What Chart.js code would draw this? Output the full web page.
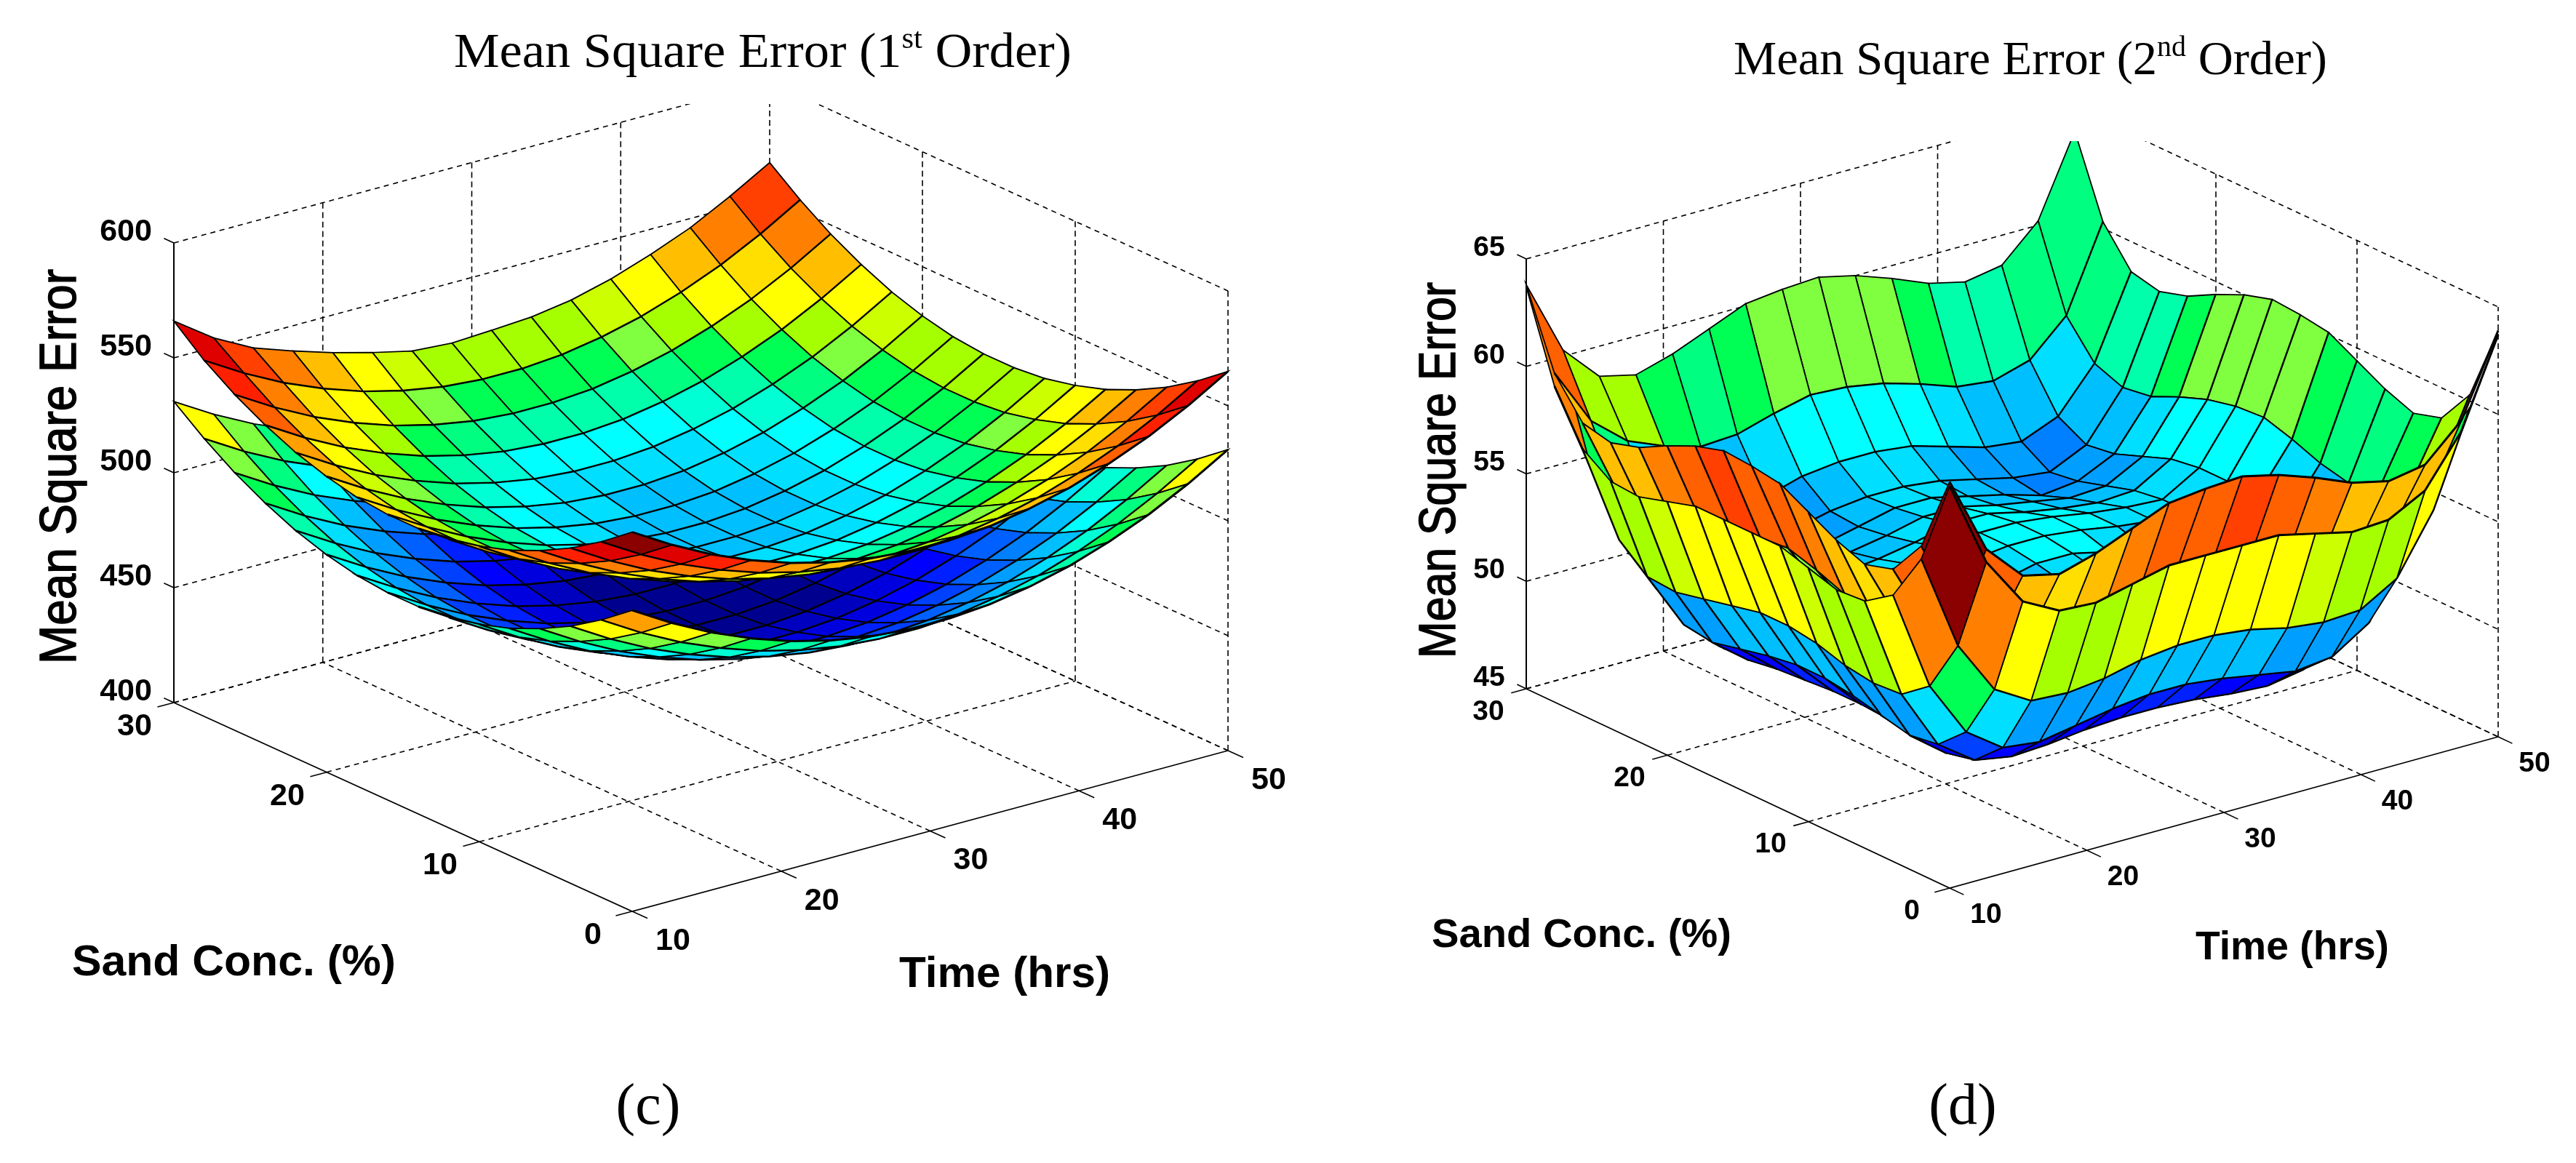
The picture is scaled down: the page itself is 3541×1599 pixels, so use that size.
<!DOCTYPE html>
<html>
<head>
<meta charset="utf-8">
<title>Mean Square Error surfaces</title>
<style>
  html, body { margin: 0; background: #fff; }
  body { position: relative; width: 3541px; height: 1599px; overflow: hidden; }
  canvas { position: absolute; top: 0; }
  #chartC { left: 0; }
  #chartD { left: 1770px; }
</style>
<script src="https://cdn.jsdelivr.net/npm/chart.js@4"></script>
</head>
<body>
<canvas id="chartC" width="1770" height="1599"></canvas>
<canvas id="chartD" width="1771" height="1599"></canvas>
<script>
// grid of both surfaces
const timeGrid = [10, 12.67, 15.33, 18, 20.67, 23.33, 26, 28.67, 31.33, 34, 36.67, 39.33, 42, 44.67, 47.33, 50];
const sandGrid = [0, 2, 4, 6, 8, 10, 12, 14, 16, 18, 20, 22, 24, 26, 28, 30];

// axis ticks
const timeTicks = [10, 20, 30, 40, 50];
const sandTicks = [0, 10, 20, 30];
const mseTicksC = [400, 450, 500, 550, 600];
const mseTicksD = [45, 50, 55, 60, 65];

// colour steps as they appear in the picture, low to high
const jetColors = ['#00008f', '#0000bf', '#0000df', '#0000ff', '#0020ff', '#0040ff', '#0060ff', '#0080ff',
  '#009fff', '#00bfff', '#00dfff', '#00ffff', '#00ffd4', '#00ffaa', '#00ff80', '#00ff55',
  '#80ff40', '#a6ff00', '#ccff00', '#ffff00', '#ffdf00', '#ffbf00', '#ff9f00', '#ff8000',
  '#ff6000', '#ff4000', '#ff2000', '#ff0000', '#df0000', '#bf0000', '#9f0000', '#8b0000'];

// panel (c), rows run along sand, columns along time
const upperC = [
  [565, 554.8, 546, 538.8, 532.9, 528.6, 525.6, 524.2, 524.2, 525.6, 528.6, 532.9, 538.8, 546, 554.8, 565],
  [554.8, 544.6, 535.8, 528.6, 522.7, 518.4, 515.4, 514, 514, 515.4, 518.4, 522.7, 528.6, 535.8, 544.6, 554.8],
  [546, 535.8, 527, 519.8, 513.9, 509.6, 506.6, 505.2, 505.2, 506.6, 509.6, 513.9, 519.8, 527, 535.8, 546],
  [538.8, 528.6, 519.8, 512.6, 506.7, 502.4, 499.4, 498, 498, 499.4, 502.4, 506.7, 512.6, 519.8, 528.6, 538.8],
  [532.9, 522.7, 513.9, 506.7, 500.8, 496.5, 493.5, 492.1, 492.1, 493.5, 496.5, 500.8, 506.7, 513.9, 522.7, 532.9],
  [528.6, 518.4, 509.6, 502.4, 496.5, 492.2, 489.2, 487.8, 487.8, 489.2, 492.2, 496.5, 502.4, 509.6, 518.4, 528.6],
  [525.6, 515.4, 506.6, 499.4, 493.5, 489.2, 486.2, 484.8, 484.8, 486.2, 489.2, 493.5, 499.4, 506.6, 515.4, 525.6],
  [524.2, 514, 505.2, 498, 492.1, 487.8, 484.8, 483.4, 483.4, 484.8, 487.8, 492.1, 498, 505.2, 514, 524.2],
  [524.2, 514, 505.2, 498, 492.1, 487.8, 484.8, 483.4, 483.4, 484.8, 487.8, 492.1, 498, 505.2, 514, 524.2],
  [525.6, 515.4, 506.6, 499.4, 493.5, 489.2, 486.2, 484.8, 484.8, 486.2, 489.2, 493.5, 499.4, 506.6, 515.4, 525.6],
  [528.6, 518.4, 509.6, 502.4, 496.5, 492.2, 489.2, 487.8, 487.8, 489.2, 492.2, 496.5, 502.4, 509.6, 518.4, 528.6],
  [532.9, 522.7, 513.9, 506.7, 500.8, 496.5, 493.5, 492.1, 492.1, 493.5, 496.5, 500.8, 506.7, 513.9, 522.7, 532.9],
  [538.8, 528.6, 519.8, 512.6, 506.7, 502.4, 499.4, 498, 498, 499.4, 502.4, 506.7, 512.6, 519.8, 528.6, 538.8],
  [546, 535.8, 527, 519.8, 513.9, 509.6, 506.6, 505.2, 505.2, 506.6, 509.6, 513.9, 519.8, 527, 535.8, 546],
  [554.8, 544.6, 535.8, 528.6, 522.7, 518.4, 515.4, 514, 514, 515.4, 518.4, 522.7, 528.6, 535.8, 544.6, 554.8],
  [566, 554, 545, 539, 533.6, 529, 525, 523.8, 524.7, 525.8, 528.5, 533, 539, 546, 555, 565]
];
const lowerC = [
  [531, 520.8, 512, 504.8, 498.9, 494.6, 491.6, 490.2, 490.2, 491.6, 494.6, 498.9, 504.8, 512, 520.8, 531],
  [520.8, 510.6, 501.8, 494.6, 488.7, 484.4, 481.4, 480, 480, 481.4, 484.4, 488.7, 494.6, 501.8, 510.6, 520.8],
  [512, 501.8, 493, 485.8, 479.9, 475.6, 472.6, 471.2, 471.2, 472.6, 475.6, 479.9, 485.8, 493, 501.8, 512],
  [504.8, 494.6, 485.8, 478.6, 472.7, 468.4, 465.4, 464, 464, 465.4, 468.4, 472.7, 478.6, 485.8, 494.6, 504.8],
  [498.9, 488.7, 479.9, 472.7, 466.8, 462.5, 459.5, 458.1, 458.1, 459.5, 462.5, 466.8, 472.7, 479.9, 488.7, 498.9],
  [494.6, 484.4, 475.6, 468.4, 462.5, 458.2, 455.2, 453.8, 453.8, 455.2, 458.2, 462.5, 468.4, 475.6, 484.4, 494.6],
  [491.6, 481.4, 472.6, 465.4, 459.5, 455.2, 452.2, 450.8, 450.8, 452.2, 455.2, 459.5, 465.4, 472.6, 481.4, 491.6],
  [490.2, 480, 471.2, 464, 458.1, 453.8, 450.8, 449.4, 449.4, 450.8, 453.8, 458.1, 464, 471.2, 480, 490.2],
  [490.2, 480, 471.2, 464, 458.1, 453.8, 450.8, 449.4, 449.4, 450.8, 453.8, 458.1, 464, 471.2, 480, 490.2],
  [491.6, 481.4, 472.6, 465.4, 459.5, 455.2, 452.2, 450.8, 450.8, 452.2, 455.2, 459.5, 465.4, 472.6, 481.4, 491.6],
  [494.6, 484.4, 475.6, 468.4, 462.5, 458.2, 455.2, 453.8, 453.8, 455.2, 458.2, 462.5, 468.4, 475.6, 484.4, 494.6],
  [498.9, 488.7, 479.9, 472.7, 466.8, 462.5, 459.5, 458.1, 458.1, 459.5, 462.5, 466.8, 472.7, 479.9, 488.7, 498.9],
  [504.8, 494.6, 485.8, 478.6, 472.7, 468.4, 465.4, 464, 464, 465.4, 468.4, 472.7, 478.6, 485.8, 494.6, 504.8],
  [512, 501.8, 493, 485.8, 479.9, 475.6, 472.6, 471.2, 471.2, 472.6, 475.6, 479.9, 485.8, 493, 501.8, 512],
  [520.8, 510.6, 501.8, 494.6, 488.7, 484.4, 481.4, 480, 480, 481.4, 484.4, 488.7, 494.6, 501.8, 510.6, 520.8],
  [531, 520.8, 512, 504.8, 498.9, 494.6, 491.6, 490.2, 490.2, 491.6, 494.6, 498.9, 504.8, 512, 520.8, 531]
];

// panel (d)
const upperD = [
  [63.9, 60.3, 58.6, 58.2, 58.7, 59.4, 60.1, 60.3, 60.4, 60, 59.4, 58.7, 58.3, 58.6, 60.2, 63.9],
  [60.3, 56.6, 55.4, 54.9, 54.8, 55.1, 55.6, 56, 56, 55.6, 55.1, 54.8, 54.9, 55.4, 56.6, 60.3],
  [58.6, 55.4, 52.8, 52.1, 52.3, 52.8, 53.3, 53.5, 53.5, 53.3, 52.8, 52.3, 52.1, 52.8, 55.4, 58.6],
  [58.2, 54.9, 52.1, 51.3, 51.5, 51.9, 52.3, 52.5, 52.5, 52.3, 51.9, 51.5, 51.3, 52.1, 54.9, 58.2],
  [58.7, 54.8, 52.3, 51.5, 51.3, 51.8, 52.2, 52.6, 52.6, 52.2, 51.8, 51.3, 51.5, 52.3, 54.8, 58.7],
  [59.4, 55.1, 52.8, 51.9, 51.8, 52.1, 52.4, 52.8, 52.8, 52.4, 52.1, 51.8, 51.9, 52.8, 55.1, 59.4],
  [60.1, 55.6, 53.3, 52.3, 52.2, 52.4, 52.7, 53.1, 53.1, 52.7, 52.4, 52.2, 52.3, 53.3, 55.6, 60.1],
  [60.3, 56, 53.5, 52.5, 52.6, 52.8, 53.1, 53.3, 53.3, 53.1, 52.8, 52.6, 52.5, 53.5, 56, 60.3],
  [60.4, 55.9, 53.5, 52.5, 52.6, 52.8, 53.1, 53.3, 53.3, 53.1, 52.8, 52.6, 52.5, 53.5, 55.9, 60.4],
  [60, 55.6, 53.3, 52.3, 52.2, 52.4, 52.7, 53.1, 53.1, 52.7, 52.4, 52.2, 52.3, 53.3, 55.6, 60],
  [59.4, 55.1, 52.8, 51.9, 51.8, 52.1, 52.4, 52.8, 52.8, 52.4, 52.1, 51.8, 51.9, 52.8, 55.1, 59.4],
  [58.7, 54.5, 52.3, 51.5, 51.3, 51.8, 52.2, 52.6, 52.6, 52.2, 51.8, 51.3, 51.5, 52.3, 54.5, 58.7],
  [58.3, 54.3, 52.1, 51.3, 51.5, 51.9, 52.3, 52.5, 52.5, 52.3, 51.9, 51.5, 51.3, 52.1, 54.3, 58.3],
  [58.6, 54.8, 52.8, 52.1, 52.3, 52.8, 53.3, 53.5, 53.5, 53.3, 52.8, 52.3, 52.1, 52.8, 54.8, 58.6],
  [60.3, 57.6, 56.2, 55.5, 55, 55.1, 55.6, 56, 55.9, 55.6, 55.1, 54.5, 54.3, 54.8, 56.4, 60.3],
  [63.8, 60.3, 58.6, 58.2, 58.7, 59.4, 60.1, 60.3, 60.4, 60, 59.4, 58.7, 58.3, 58.6, 60.2, 63.9]
];
const lowerD = [
  [63.7, 59.7, 57.4, 56.5, 56.4, 56.8, 57.2, 57.2, 57.2, 57.2, 56.8, 56.4, 56.5, 57.4, 59.7, 63.7],
  [59.7, 55.2, 52.7, 51.7, 51.6, 51.8, 52.2, 52.4, 52.4, 52.2, 51.8, 51.6, 51.7, 52.7, 55.4, 59.7],
  [57.4, 52.7, 50.1, 48.9, 48.7, 49, 49.3, 49.5, 49.5, 49.3, 49, 48.7, 48.9, 50, 52.7, 57.4],
  [56.5, 51.7, 48.9, 47.7, 47.4, 47.5, 47.7, 47.8, 47.8, 47.7, 47.5, 47.4, 47.7, 48.9, 51.7, 56.5],
  [56.4, 51.6, 48.7, 47.4, 48.3, 48.8, 49.2, 49.6, 49.6, 49.2, 48.8, 48.3, 47.4, 48.7, 51.6, 56.4],
  [56.8, 51.8, 49, 47.5, 48.8, 49.1, 49.4, 49.8, 49.8, 49.4, 49.1, 48.8, 47.5, 49, 51.8, 56.8],
  [57.2, 52.2, 49.3, 47.7, 49.2, 49.4, 49.7, 50.1, 50.1, 49.7, 49.4, 49.2, 47.7, 49.3, 52.2, 57.2],
  [57.2, 52.4, 49.5, 47.8, 49.6, 49.8, 50.1, 50.3, 50.3, 50.1, 49.8, 49.6, 47.8, 49.5, 52.4, 57.2],
  [57.2, 52.4, 49.5, 47.8, 49.6, 49.8, 50.1, 50.3, 50.3, 50.1, 49.8, 49.6, 47.8, 49.5, 52.4, 57.2],
  [57.2, 52.1, 49.3, 47.7, 49.2, 49.4, 49.7, 50.1, 50.1, 49.7, 49.4, 49.2, 47.7, 49.3, 52.2, 57.2],
  [56.8, 51.8, 49, 47.6, 48.8, 49.1, 49.4, 49.8, 49.8, 49.4, 49.1, 48.8, 47.5, 49, 51.8, 56.8],
  [56.4, 51.5, 48.7, 47.4, 48.3, 48.8, 49.2, 49.6, 49.6, 49.2, 48.8, 48.3, 47.4, 48.7, 51.6, 56.4],
  [56.5, 51.6, 48.9, 47.4, 47.4, 47.5, 47.7, 47.8, 47.8, 47.7, 47.5, 47.4, 47.7, 48.9, 51.7, 56.5],
  [57.4, 52.7, 50, 48, 48.7, 49, 49.3, 49.5, 49.5, 49.3, 49, 48.7, 48.9, 50, 52.7, 57.4],
  [59.7, 55.4, 51.1, 50, 51.6, 51.8, 52.2, 52.4, 52.4, 52.2, 51.8, 51.6, 51.7, 52.7, 55.2, 59.7],
  [63.7, 59.7, 57.4, 56.5, 56.4, 56.8, 57.2, 57.2, 57.2, 57.2, 56.8, 56.4, 56.5, 57.4, 59.7, 63.7]
];
// two cells of the upper sheet in (d) read greener than their height says
const colourValuesD = { '14,14': 54.8, '14,1': 56.6 };

const panelC = {
  id: 'chartC', xMin: 0, xMax: 1770, clipTop: 143,
  front: [869, 1253], timeVec: [819, -221], sandVec: [-630, -287], zVec: -632,
  zTicks: mseTicksC, clim: [449, 568], lower: lowerC, upper: upperC, colourValues: {},
  zStub: 0.65, zLabel: [-66, -15], sandLabel: [-54, 33], timeLabel: [56, 41], tickFont: 'bold 43px "Liberation Sans"',
  title: ['Mean Square Error (1', 'st', ' Order)'], titleBox: [624, 92, 849], titleSize: 68,
  yLabel: [104, 913, 543], sandTitle: [99, 1341, 445, 60], timeTitle: [1236, 1357, 290, 60],
  tag: ['(c)', 891, 1545]
};
const panelD = {
  id: 'chartD', xMin: 1770, xMax: 3541, clipTop: 194,
  front: [2680, 1221], timeVec: [754, -208], sandVec: [-582, -274], zVec: -591,
  zTicks: mseTicksD, clim: [47.2, 64], lower: lowerD, upper: upperD, colourValues: colourValuesD,
  zStub: 0.65, zLabel: [-51, -15], sandLabel: [-52, 32], timeLabel: [50, 37], tickFont: 'bold 39px "Liberation Sans"',
  title: ['Mean Square Error (2', 'nd', ' Order)'], titleBox: [2383, 102, 816], titleSize: 65,
  yLabel: [2000, 905, 517], sandTitle: [1968, 1302, 412, 56], timeTitle: [3018, 1319, 266, 56],
  tag: ['(d)', 2698, 1545]
};

// box coordinates to picture plane
function project(p, t, s, z) {
  const u = (t - timeTicks[0]) / (timeTicks[timeTicks.length - 1] - timeTicks[0]);
  const v = (s - sandTicks[0]) / (sandTicks[sandTicks.length - 1] - sandTicks[0]);
  const w = (z - p.zTicks[0]) / (p.zTicks[p.zTicks.length - 1] - p.zTicks[0]);
  return {
    x: p.front[0] + u * p.timeVec[0] + v * p.sandVec[0],
    y: p.front[1] + u * p.timeVec[1] + v * p.sandVec[1] + w * p.zVec
  };
}

function jetColor(p, z) {
  const v = (z - p.clim[0]) / (p.clim[1] - p.clim[0]);
  const idx = Math.max(0, Math.min(jetColors.length - 1, Math.floor(v * jetColors.length)));
  return jetColors[idx];
}

function lineSet(data, width, dash) {
  return { data, showLine: true, fill: false, borderColor: '#000', borderWidth: width, borderDash: dash || [], pointRadius: 0 };
}

// negative signed area: the viewer sees the top side of the cell
function signedArea(q) {
  let a = 0;
  for (let k = 0; k < 4; k++) a += q[k].x * q[k + 1].y - q[k + 1].x * q[k].y;
  return a;
}

function cellQuad(p, surf, i, j) {
  return [
    project(p, timeGrid[j], sandGrid[i], surf[i][j]),
    project(p, timeGrid[j + 1], sandGrid[i], surf[i][j + 1]),
    project(p, timeGrid[j + 1], sandGrid[i + 1], surf[i + 1][j + 1]),
    project(p, timeGrid[j], sandGrid[i + 1], surf[i + 1][j]),
    project(p, timeGrid[j], sandGrid[i], surf[i][j])
  ];
}

function pushCell(list, p, surf, quad, i, j) {
  const fixed = surf === p.upper ? p.colourValues[i + ',' + j] : undefined;
  list.push({
    data: quad, showLine: true, fill: 'shape', backgroundColor: jetColor(p, fixed !== undefined ? fixed : surf[i][j]),
    borderColor: '#000', borderWidth: 1.8, pointRadius: 0
  });
  // lines along time read heavier than the ones along sand
  list.push(lineSet([quad[0], quad[1], { x: NaN, y: NaN }, quad[2], quad[3]], 3));
}

function buildDatasets(p) {
  const list = [];
  const zLo = p.zTicks[0], zHi = p.zTicks[p.zTicks.length - 1];
  const tLo = timeTicks[0], tHi = timeTicks[timeTicks.length - 1];
  const sLo = sandTicks[0], sHi = sandTicks[sandTicks.length - 1];

  // walls and floor
  timeTicks.forEach(t => {
    if (t > tLo) list.push(lineSet([project(p, t, sLo, zLo), project(p, t, sHi, zLo)], 1.6, [7, 6]));
    if (t > tLo) list.push(lineSet([project(p, t, sHi, zLo), project(p, t, sHi, zHi)], 1.6, [8, 5]));
    list.push(lineSet([project(p, t, sLo, zLo), project(p, t, sLo - 1, zLo)], 1.6));
  });
  sandTicks.forEach(s => {
    if (s > sLo) list.push(lineSet([project(p, tLo, s, zLo), project(p, tHi, s, zLo)], 1.6, [7, 6]));
    if (s < sHi) list.push(lineSet([project(p, tHi, s, zLo), project(p, tHi, s, zHi)], 1.6, [8, 5]));
    list.push(lineSet([project(p, tLo, s, zLo), project(p, tLo - 1.1, s, zLo)], 1.6));
  });
  p.zTicks.forEach(z => {
    list.push(lineSet([project(p, tLo, sHi, z), project(p, tHi, sHi, z), project(p, tHi, sLo, z)], 1.6, [7, 6]));
    list.push(lineSet([project(p, tLo, sHi, z), project(p, tLo, sHi + p.zStub, z)], 1.6));
  });
  list.push(lineSet([project(p, tLo, sHi, zLo), project(p, tLo, sHi, zHi)], 2));
  list.push(lineSet([project(p, tLo, sHi, zLo), project(p, tLo, sLo, zLo), project(p, tHi, sLo, zLo)], 1.8));

  // back to front, column by column; inside a column the layer order follows
  // which side of the sheet the viewer looks at
  for (let i = sandGrid.length - 2; i >= 0; i--) {
    for (let j = timeGrid.length - 2; j >= 0; j--) {
      const qU = cellQuad(p, p.upper, i, j);
      const qL = cellQuad(p, p.lower, i, j);
      if (signedArea(qU) < 0) {
        pushCell(list, p, p.lower, qL, i, j);
        pushCell(list, p, p.upper, qU, i, j);
      } else {
        pushCell(list, p, p.upper, qU, i, j);
        pushCell(list, p, p.lower, qL, i, j);
      }
    }
  }
  // Chart.js paints the first dataset last
  return list.reverse();
}

function fitText(ctx, text, x, y, width, font, rot, heavy) {
  ctx.save();
  ctx.font = font;
  ctx.textAlign = 'left';
  ctx.textBaseline = 'alphabetic';
  const m = ctx.measureText(text).width;
  ctx.translate(x, y);
  if (rot) ctx.rotate(rot);
  ctx.scale(width / m, 1);
  ctx.fillText(text, 0, 0);
  if (heavy) {
    ctx.lineWidth = heavy;
    ctx.strokeText(text, 0, 0);
  }
  ctx.restore();
}

function textPlugin(p) {
  return {
    id: 'panelText',
    afterDraw(chart) {
      const ctx = chart.ctx;
      const px = v => chart.scales.x.getPixelForValue(v);
      const py = v => chart.scales.y.getPixelForValue(v);
      ctx.save();
      ctx.fillStyle = '#000';
      ctx.strokeStyle = '#000';

      // tick labels sit at a fixed offset from their tick
      ctx.font = p.tickFont;
      ctx.textAlign = 'center';
      ctx.textBaseline = 'middle';
      const zLo = p.zTicks[0];
      p.zTicks.forEach(z => {
        const a = project(p, timeTicks[0], 30, z);
        ctx.fillText(String(z), px(a.x + p.zLabel[0]), py(a.y + p.zLabel[1]));
      });
      sandTicks.forEach(s => {
        const a = project(p, timeTicks[0], s, zLo);
        ctx.fillText(String(s), px(a.x + p.sandLabel[0]), py(a.y + p.sandLabel[1]));
      });
      timeTicks.forEach(t => {
        const a = project(p, t, 0, zLo);
        ctx.fillText(String(t), px(a.x + p.timeLabel[0]), py(a.y + p.timeLabel[1]));
      });

      // title with its superscript
      const [tx, ty, tw] = p.titleBox;
      const big = p.titleSize + 'px "Liberation Serif"';
      const small = Math.round(p.titleSize * 0.6) + 'px "Liberation Serif"';
      ctx.textAlign = 'left';
      ctx.textBaseline = 'alphabetic';
      ctx.font = big;
      const w0 = ctx.measureText(p.title[0]).width, w2 = ctx.measureText(p.title[2]).width;
      ctx.font = small;
      const w1 = ctx.measureText(p.title[1]).width;
      const k = tw / (w0 + w1 + w2);
      fitText(ctx, p.title[0], px(tx), ty, w0 * k, big);
      fitText(ctx, p.title[1], px(tx + w0 * k), ty - p.titleSize * 0.38, w1 * k, small);
      fitText(ctx, p.title[2], px(tx + (w0 + w1) * k), ty, w2 * k, big);

      // axis names
      fitText(ctx, 'Mean Square Error', px(p.yLabel[0]), p.yLabel[1], p.yLabel[2], '70px "Liberation Sans"', -Math.PI / 2, 1.5);
      fitText(ctx, 'Sand Conc. (%)', px(p.sandTitle[0]), p.sandTitle[1], p.sandTitle[2], 'bold ' + p.sandTitle[3] + 'px "Liberation Sans"');
      fitText(ctx, 'Time (hrs)', px(p.timeTitle[0]), p.timeTitle[1], p.timeTitle[2], 'bold ' + p.timeTitle[3] + 'px "Liberation Sans"');

      ctx.font = '80px "Liberation Serif"';
      ctx.textAlign = 'center';
      ctx.fillText(p.tag[0], px(p.tag[1]), p.tag[2]);
      ctx.restore();
    }
  };
}

function makeChart(p) {
  return new Chart(document.getElementById(p.id), {
    type: 'scatter',
    data: { datasets: buildDatasets(p) },
    plugins: [textPlugin(p)],
    options: {
      responsive: false,
      animation: false,
      devicePixelRatio: 1,
      parsing: false,
      events: [],
      layout: { padding: { top: p.clipTop, left: 0, right: 0, bottom: 0 } },
      plugins: { legend: { display: false }, tooltip: { enabled: false }, title: { display: false } },
      scales: {
        x: { type: 'linear', min: p.xMin, max: p.xMax, display: false },
        y: { type: 'linear', min: p.clipTop, max: 1599, reverse: true, display: false }
      }
    }
  });
}

makeChart(panelC);
makeChart(panelD);
</script>
</body>
</html>
